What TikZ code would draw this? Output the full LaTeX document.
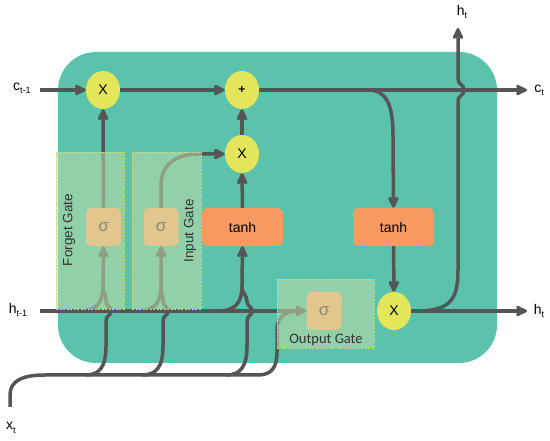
\documentclass[tikz,border=0pt]{standalone}
\usepackage{fontspec}
\setmainfont{Liberation Sans}
\newfontfamily\gatefont{Carlito}
\usepackage{xcolor}
\usetikzlibrary{arrows.meta,shapes.geometric}
\definecolor{cellTeal}{HTML}{5BC2AB}
\definecolor{lineGray}{HTML}{555555}
\definecolor{opYellow}{HTML}{E3E55A}
\definecolor{tanhOrange}{HTML}{F79A62}
\definecolor{sigTan}{HTML}{E2C68D}
\definecolor{gateGreen}{HTML}{C0DDA8}
\definecolor{gateEdge}{HTML}{C8DC78}
\definecolor{sigText}{HTML}{858F77}
\pgfdeclarelayer{bg}
\pgfdeclarelayer{lines}
\pgfdeclarelayer{gates}
\pgfsetlayers{bg,lines,gates,main}
\newcommand{\lsub}[2]{#1\raisebox{-0.45ex}{\fontsize{9}{9}\selectfont #2}}

\begin{document}
\begin{tikzpicture}[x=1pt,y=-1pt,
    >={Stealth[length=14pt,width=13pt,inset=3pt,round]},
    flow/.style={draw=lineGray,line width=3.5pt,line join=round},
    opnode/.style={ellipse,fill=opYellow,minimum width=34pt,minimum height=38pt,inner sep=0pt,font=\fontsize{14}{14}\selectfont},
    tanhbox/.style={rectangle,rounded corners=5pt,fill=tanhOrange,minimum width=81pt,minimum height=38pt,font=\fontsize{14}{14}\selectfont},
    sigbox/.style={rectangle,rounded corners=5pt,fill=sigTan,minimum width=35pt,minimum height=38pt,text=sigText,font=\fontsize{17}{17}\selectfont},
    gatebox/.style={rectangle,fill=gateGreen,fill opacity=0.55,draw=gateEdge,line width=0.6pt,dash pattern=on 2pt off 1.5pt,inner sep=0pt},
    gatelabel/.style={text=black!80,font=\fontsize{13.5}{13.5}\selectfont},
    termlabel/.style={font=\fontsize{14}{14}\selectfont,inner sep=0pt}]

    \useasboundingbox (0,0) rectangle (550,441);

    % cell body
    \begin{pgfonlayer}{bg}
        \fill[cellTeal,rounded corners=38pt] (58,52) rectangle (497,363);
    \end{pgfonlayer}

    % operators and layers
    \node[opnode] (fMul) at (103,90) {X};
    \node[opnode,font=\bfseries\fontsize{12}{12}\selectfont] (cAdd) at (242,90) {+};
    \node[opnode] (iMul) at (242,154) {X};
    \node[opnode] (oMul) at (394,311) {X};
    \node[tanhbox] (iTanh) at (242.5,227) {tanh};
    \node[tanhbox] (oTanh) at (393.5,227) {tanh};
    \node[sigbox] (fSig) at (103.5,227) {σ};
    \node[sigbox] (iSig) at (161,227) {σ};
    \node[sigbox] (oSig) at (324,311) {σ};

    % terminals
    \node[termlabel] (cIn) at (22,88) {\lsub{c}{t-1}};
    \node[termlabel] (hIn) at (18,310) {\lsub{h}{t-1}};
    \node[termlabel] (xIn) at (11,428) {\lsub{x}{t}};
    \node[termlabel] (cOut) at (539,90) {\lsub{c}{t}};
    \node[termlabel] (hOut) at (539,311) {\lsub{h}{t}};
    \node[termlabel] (hUp) at (462,12) {\lsub{h}{t}};
    \coordinate (cStart) at (40,90);
    \coordinate (cEnd) at (527,90);
    \coordinate (hStart) at (40,311);
    \coordinate (hEnd) at (527,311);
    \coordinate (hTop) at (458,28);
    \coordinate (xStart) at (10,407);

    \begin{pgfonlayer}{lines}
        % cell state
        \draw[flow,->] (cStart) -- (fMul);
        \draw[flow,->] (fMul) -- (cAdd);
        \draw[flow,->] (cAdd) -- (cEnd);
        \draw[flow,->] (fSig) -- (fMul);
        \draw[flow,->] (iSig.north) -- (161,185) .. controls +(0,-20) and +(-22,0) .. (198,154) -- (iMul.west);
        \draw[flow,->] (iTanh) -- (iMul);
        \draw[flow,->] (iMul) -- (cAdd);
        \draw[flow,->] (368,90) .. controls (386,90) and (393,104) .. (393,135) -- (oTanh.north);
        \draw[flow,->] (oTanh) -- (oMul);
        % output
        \draw[flow,->] (oMul) -- (hEnd);
        \draw[flow,->] (416,311) .. controls (450,311) and (458,300) .. (458,270) -- (458,101)
            .. controls (458,95) and (464,96) .. (464,90) .. controls (464,84) and (458,85) .. (458,79) -- (hTop);
        % hidden state
        \draw[flow,->] (hStart) -- (oSig);
        \draw[flow] (80,311) .. controls (97,311) and (103,302) .. (103,286);
        \draw[flow] (138,311) .. controls (155,311) and (161,302) .. (161,286);
        \draw[flow] (218,311) .. controls (236,311) and (242,302) .. (242,286);
        % input
        \draw[flow] (xStart) -- (10,395) .. controls (10,381) and (22,375) .. (45,375) -- (258,375)
            .. controls (271,375) and (277,368) .. (277,352) -- (277,330) .. controls (277,318) and (284,311) .. (298,311);
        \draw[flow,->] (86,375) .. controls (100,375) and (106,366) .. (106,346) -- (106,321)
            .. controls (106,315) and (111,316) .. (111,311) .. controls (111,306) and (106,307) .. (106,301)
            .. controls (106,295) and (103,294) .. (103,286) -- (fSig.south);
        \draw[flow,->] (142,375) .. controls (157,375) and (163,366) .. (163,346) -- (163,321)
            .. controls (163,315) and (168,316) .. (168,311) .. controls (168,306) and (163,307) .. (163,301)
            .. controls (163,295) and (161,294) .. (161,286) -- (iSig.south);
        \draw[flow,->] (226,375) .. controls (241,375) and (247,366) .. (247,346) -- (247,321)
            .. controls (247,315) and (252,316) .. (252,311) .. controls (252,306) and (247,307) .. (247,301)
            .. controls (247,295) and (242,294) .. (242,286) -- (iTanh.south);
    \end{pgfonlayer}

    % gates
    \begin{pgfonlayer}{gates}
        \node[gatebox,minimum width=68pt,minimum height=157pt] (fGate) at (90,230.5) {};
        \node[gatebox,minimum width=69pt,minimum height=157pt] (iGate) at (166.5,230.5) {};
        \node[gatebox,minimum width=97pt,minimum height=69pt] (oGate) at (325.5,313.5) {};
    \end{pgfonlayer}
    \node[gatelabel,rotate=90] (fLabel) at (69,230) {Forget Gate};
    \node[gatelabel,rotate=90] (iLabel) at (190,231) {Input Gate};
    \node[gatelabel,font=\gatefont\fontsize{14.5}{14.5}\selectfont] (oLabel) at (326,340) {Output Gate};

\end{tikzpicture}
\end{document}
